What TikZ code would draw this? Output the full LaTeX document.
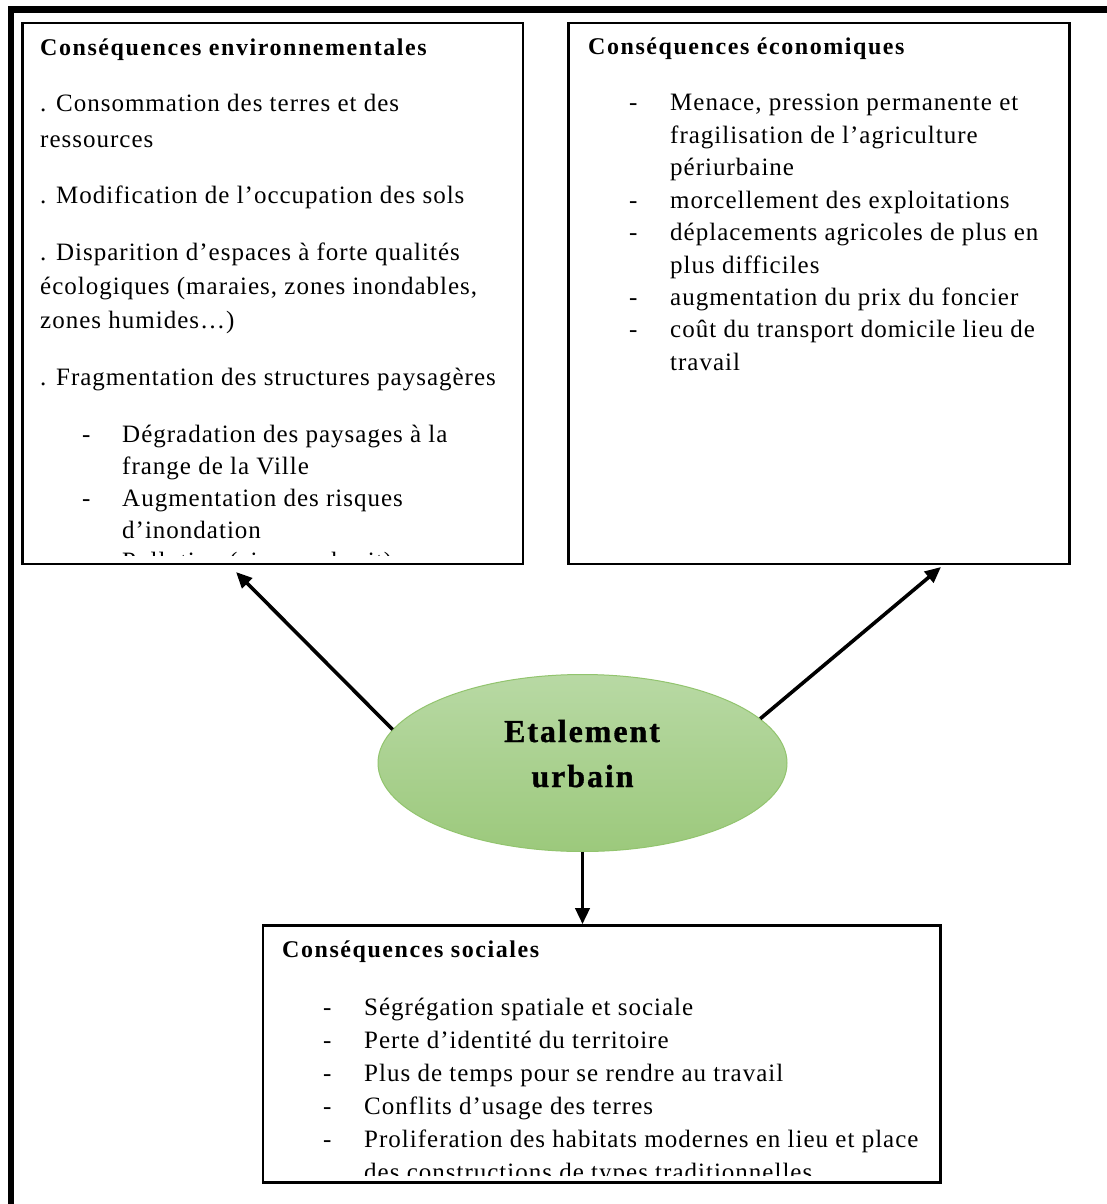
\documentclass[tikz,border=0pt]{standalone}
\usepackage{fontspec}
\setmainfont{Liberation Serif}
\newfontfamily\bodyf[LetterSpace=4]{Liberation Serif}
\newfontfamily\headf[LetterSpace=6.5]{Liberation Serif}
\newfontfamily\ellf[LetterSpace=6,FakeBold=1]{Liberation Serif}
\usetikzlibrary{arrows.meta,shapes.geometric}
\definecolor{elltop}{RGB}{184,217,164}
\definecolor{ellbot}{RGB}{156,201,124}
\definecolor{elldraw}{RGB}{146,196,110}
\begin{document}
\begin{tikzpicture}[x=1pt,y=-1pt,
  bx/.style={draw=black, line width=2.6pt, inner sep=0pt, rectangle},
  tx/.style={anchor=base west, inner sep=0pt, font=\bodyf\fontsize{25}{30}\selectfont},
  hd/.style={anchor=base west, inner sep=0pt, font=\headf\bfseries\fontsize{24}{29}\selectfont},
  et/.style={anchor=base, inner sep=0pt, font=\ellf\bfseries\fontsize{32}{38}\selectfont},
  arr/.style={line width=3.6pt, -{Triangle[length=16pt,width=14pt]}},
]
\useasboundingbox (0,0) rectangle (1106,1204);
\fill[white] (0,0) rectangle (1106,1204);
% outer frame (top and left edges)
\draw[line width=6.5pt] (11,1210) -- (11,9.5) -- (1110,9.5);

% boxes
\node[bx, minimum width=500.5pt, minimum height=541pt] (env) at (272.75,293.5) {};
\node[bx, minimum width=501pt, minimum height=541pt] (eco) at (819,293.5) {};
\node[bx, minimum width=677.5pt, minimum height=257pt] (soc) at (601.75,1054) {};

% ellipse
\node[ellipse, draw=elldraw, line width=1pt, top color=elltop, bottom color=ellbot,
      minimum width=409pt, minimum height=177pt, inner sep=0pt] (ell) at (582.5,763) {};
\node[et] (et1) at (582,742) {Etalement};
\node[et] (et2) at (582.5,787) {urbain};

% arrows
\coordinate (tipE) at (236,572);
\coordinate (tipC) at (941,567);
\draw[arr] (ell.170) -- (tipE);
\draw[arr] (ell.14) -- (tipC);
\draw[arr] (ell.south) -- (ell.south |- soc.north);

% environmental box text
\node[hd] (e0) at (40,56) {Conséquences environnementales};
\begin{scope}
\clip (24,24) rectangle (521,555);
\node[tx] (e1) at (40,112) {. Consommation des terres et des};
\node[tx] (e2) at (40,147) {ressources};
\node[tx] (e3) at (40,203) {. Modification de l’occupation des sols};
\node[tx] (e4) at (40,260) {. Disparition d’espaces à forte qualités};
\node[tx] (e5) at (40,294) {écologiques (maraies, zones inondables,};
\node[tx] (e6) at (40,328) {zones humides…)};
\node[tx] (e7) at (40,385) {. Fragmentation des structures paysagères};
\node[tx] (ed1) at (82,442) {-};
\node[tx] (e8) at (122,442) {Dégradation des paysages à la};
\node[tx] (e9) at (122,474) {frange de la Ville};
\node[tx] (ed2) at (82,506) {-};
\node[tx] (e10) at (122,506) {Augmentation des risques};
\node[tx] (e11) at (122,538) {d’inondation};
\node[tx] (ed3) at (82,569) {-};
\node[tx] (e12) at (122,569) {Pollution (air, eau, bruit)};
\end{scope}

% economic box text
\node[hd] (c0) at (588,55) {Conséquences économiques};
\node[tx] (cd1) at (629,111) {-};
\node[tx] (c1) at (670,111) {Menace, pression permanente et};
\node[tx] (c2) at (670,143.4) {fragilisation de l’agriculture};
\node[tx] (c3) at (670,175.8) {périurbaine};
\node[tx] (cd2) at (629,208.2) {-};
\node[tx] (c4) at (670,208.2) {morcellement des exploitations};
\node[tx] (cd3) at (629,240.6) {-};
\node[tx] (c5) at (670,240.6) {déplacements agricoles de plus en};
\node[tx] (c6) at (670,273) {plus difficiles};
\node[tx] (cd4) at (629,305.4) {-};
\node[tx] (c7) at (670,305.4) {augmentation du prix du foncier};
\node[tx] (cd5) at (629,337.8) {-};
\node[tx] (c8) at (670,337.8) {coût du transport domicile lieu de};
\node[tx] (c9) at (670,370.2) {travail};

% social box text
\node[hd] (s0) at (282,957) {Conséquences sociales};
\begin{scope}
\clip (265,927) rectangle (939,1175);
\node[tx] (sd1) at (323,1015) {-};
\node[tx] (s1) at (364,1015) {Ségrégation spatiale et sociale};
\node[tx] (sd2) at (323,1048) {-};
\node[tx] (s2) at (364,1048) {Perte d’identité du territoire};
\node[tx] (sd3) at (323,1081) {-};
\node[tx] (s3) at (364,1081) {Plus de temps pour se rendre au travail};
\node[tx] (sd4) at (323,1114) {-};
\node[tx] (s4) at (364,1114) {Conflits d’usage des terres};
\node[tx] (sd5) at (323,1147) {-};
\node[tx] (s5) at (364,1147) {Proliferation des habitats modernes en lieu et place};
\node[tx] (s6) at (364,1180) {des constructions de types traditionnelles};
\end{scope}
\end{tikzpicture}
\end{document}
